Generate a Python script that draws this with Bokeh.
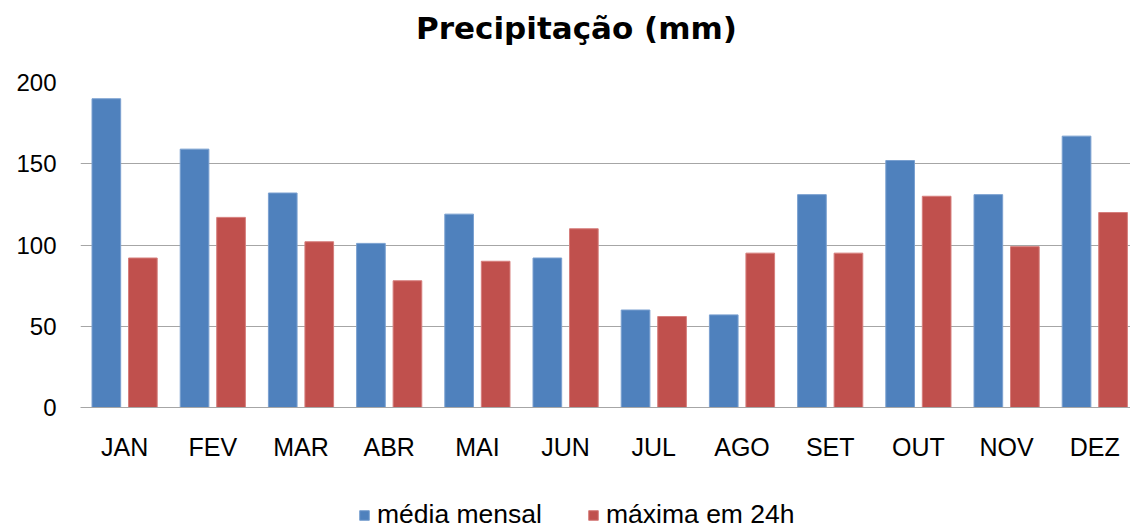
from bokeh.plotting import figure
from bokeh.layouts import column
from bokeh.models import ColumnDataSource, Range1d, FixedTicker, Legend, LegendItem, Label
from bokeh.transform import dodge
from bokeh.embed import file_html
from bokeh.resources import INLINE

title_text = "Precipitação (mm)"
months = ["JAN", "FEV", "MAR", "ABR", "MAI", "JUN", "JUL", "AGO", "SET", "OUT", "NOV", "DEZ"]
media_mensal = [190, 159, 132, 101, 119, 92, 60, 57, 131, 152, 131, 167]
maxima_24h = [92, 117, 102, 78, 90, 110, 56, 95, 95, 130, 99, 120]
series_names = ["média mensal", "máxima em 24h"]
series_colors = ["#4f81bd", "#c0504d"]
series_edges = ["#7aa0d0", "#d67e7c"]
y_ticks = [0, 50, 100, 150, 200]

idx = list(range(len(months)))
src = ColumnDataSource(dict(idx=idx, media=media_mensal, maxima=maxima_24h))

LEFT, FW = 80, 1050
W = LEFT + FW


def strip(height):
    f = figure(width=W, height=height, output_backend="svg", toolbar_location=None,
               x_axis_type=None, y_axis_type=None,
               x_range=Range1d(LEFT, W), y_range=Range1d(0, height),
               min_border_left=LEFT, min_border_right=0, min_border_top=0, min_border_bottom=0)
    f.outline_line_color = None
    f.grid.grid_line_color = None
    f.background_fill_color = "white"
    f.border_fill_color = "white"
    return f


# title strip
TH = 60
tt = strip(TH)
tt.add_layout(Label(x=576, y=TH - 27, text=title_text, text_align="center",
                    text_baseline="alphabetic", text_font="DejaVu Sans",
                    text_font_style="bold", text_font_size="31px", text_color="black"))

# main chart
p = figure(frame_width=FW, frame_height=325, output_backend="svg", toolbar_location=None,
           x_range=Range1d(-0.5, -0.5 + FW / 88.2), y_range=Range1d(0, 200),
           min_border_left=LEFT, min_border_right=0, min_border_top=82 - TH, min_border_bottom=88)
p.outline_line_color = None
p.background_fill_color = "white"
p.border_fill_color = "white"

p.vbar(x=dodge("idx", -0.207, range=p.x_range), top="media", width=0.325, source=src,
       fill_color=series_colors[0], line_color=series_edges[0], line_width=1)
p.vbar(x=dodge("idx", 0.207, range=p.x_range), top="maxima", width=0.325, source=src,
       fill_color=series_colors[1], line_color=series_edges[1], line_width=1)

p.xaxis.ticker = FixedTicker(ticks=idx)
p.xaxis.major_label_overrides = {i: m for i, m in zip(idx, months)}
p.xaxis.major_tick_line_color = None
p.xaxis.minor_tick_line_color = None
p.xaxis.axis_line_color = "#a6a6a6"
p.xaxis.major_label_text_font = "Liberation Sans"
p.xaxis.major_label_text_font_size = "25px"
p.xaxis.major_label_text_color = "black"
p.xaxis.major_label_standoff = 19

p.yaxis.ticker = FixedTicker(ticks=y_ticks)
p.yaxis.axis_line_color = None
p.yaxis.major_tick_line_color = None
p.yaxis.minor_tick_line_color = None
p.yaxis.major_label_text_font = "Liberation Sans"
p.yaxis.major_label_text_font_size = "24px"
p.yaxis.major_label_text_color = "black"
p.yaxis.major_label_standoff = 18

p.xgrid.grid_line_color = None
p.ygrid.ticker = FixedTicker(ticks=y_ticks)
p.ygrid.grid_line_color = "#a6a6a6"
p.ygrid.grid_line_width = 1

# legend strip below the chart (legend renderers hold no visible data)
lg = strip(34)
items = []
for name, col, edge in zip(series_names, series_colors, series_edges):
    r = lg.vbar(x=[100000], top=[0], width=1, fill_color=col, line_color=edge)
    items.append(LegendItem(label=name, renderers=[r]))

legend = Legend(items=items, orientation="horizontal", location=(278, -1))
legend.label_text_font = "Liberation Sans"
legend.label_text_font_size = "26.5px"
legend.label_text_color = "black"
legend.glyph_width = 12
legend.glyph_height = 12
legend.label_standoff = 7
legend.label_width = 166
legend.spacing = 44
legend.padding = 0
legend.margin = 0
legend.border_line_color = None
legend.background_fill_alpha = 0
lg.add_layout(legend, "center")

open("out.html", "w").write(file_html(column(tt, p, lg, spacing=0), INLINE))
